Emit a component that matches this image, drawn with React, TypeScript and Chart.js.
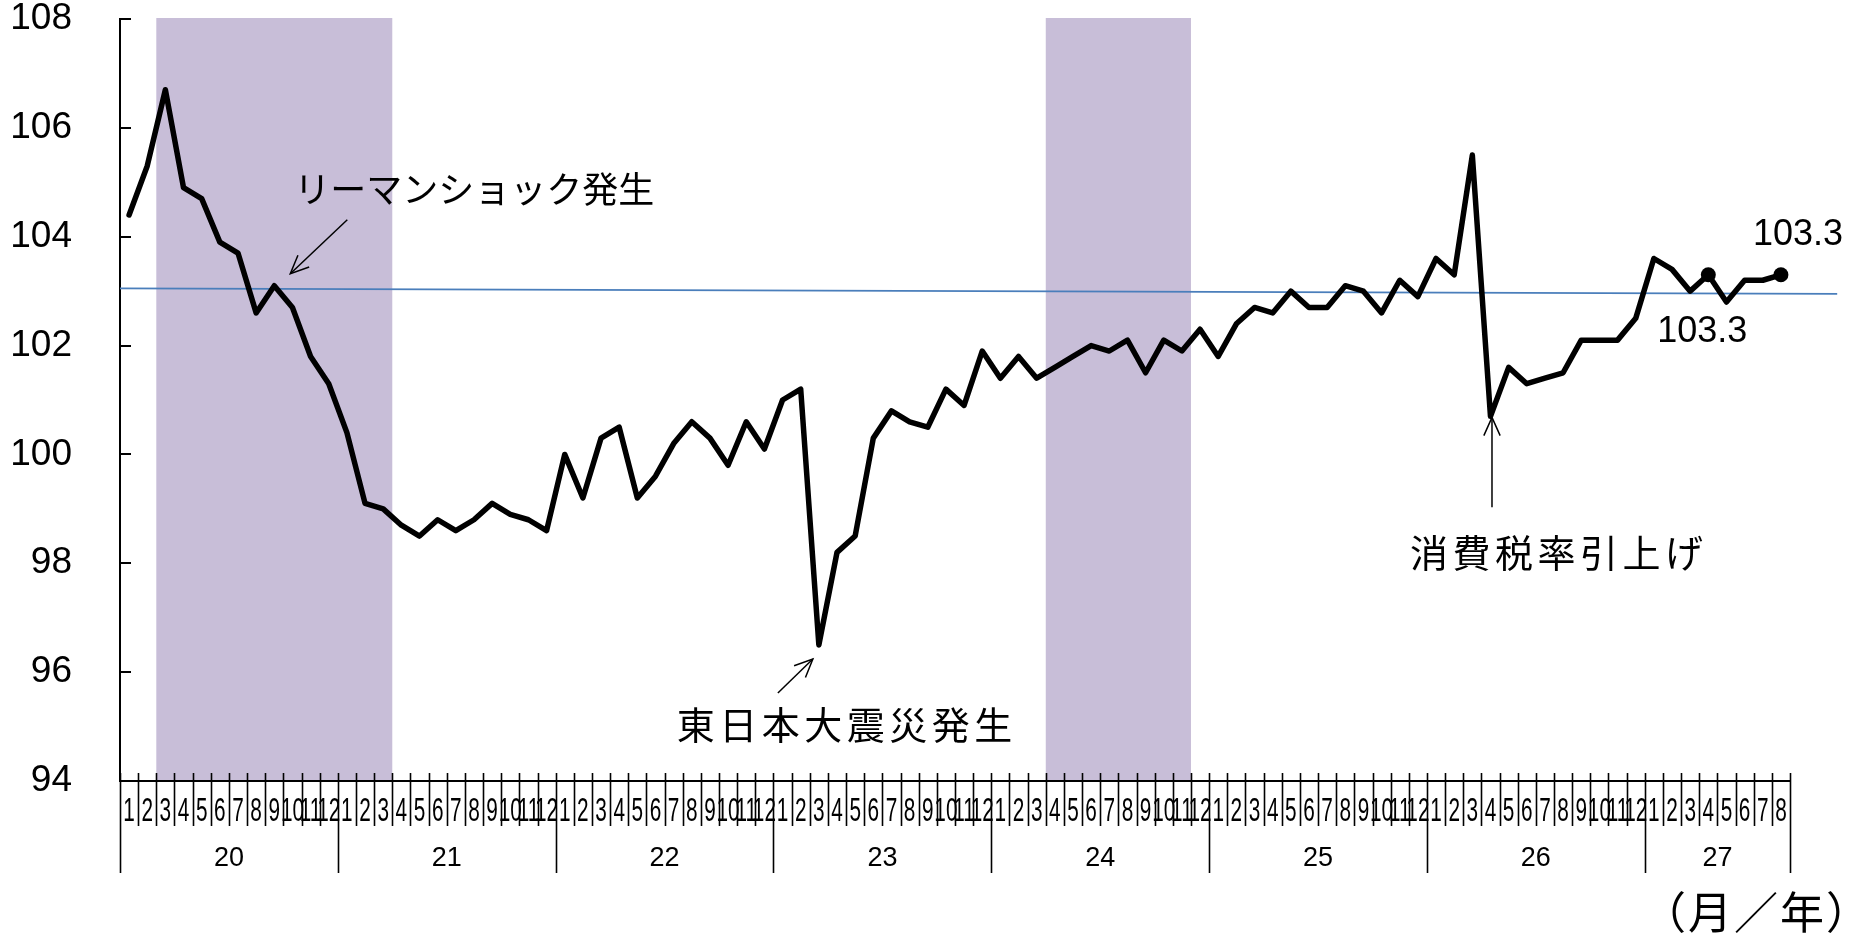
import { useEffect, useRef } from 'react';
import { Chart, registerables } from 'chart.js';

Chart.register(...registerables);

// Heisei years on the time axis and how many months each one contributes
const YEARS = ['20', '21', '22', '23', '24', '25', '26', '27'];
const MONTHS_PER_YEAR = [12, 12, 12, 12, 12, 12, 12, 8];

// Monthly index, H20.1 – H27.8
const INDEX_VALUES = [
  // H20
  104.4, 105.3, 106.7, 104.9, 104.7, 103.9, 103.7, 102.6, 103.1, 102.7, 101.8, 101.3,
  // H21
  100.4, 99.1, 99.0, 98.7, 98.5, 98.8, 98.6, 98.8, 99.1, 98.9, 98.8, 98.6,
  // H22
  100.0, 99.2, 100.3, 100.5, 99.2, 99.6, 100.2, 100.6, 100.3, 99.8, 100.6, 100.1,
  // H23
  101.0, 101.2, 96.5, 98.2, 98.5, 100.3, 100.8, 100.6, 100.5, 101.2, 100.9, 101.9,
  // H24
  101.4, 101.8, 101.4, 101.6, 101.8, 102.0, 101.9, 102.1, 101.5, 102.1, 101.9, 102.3,
  // H25
  101.8, 102.4, 102.7, 102.6, 103.0, 102.7, 102.7, 103.1, 103.0, 102.6, 103.2, 102.9,
  // H26
  103.6, 103.3, 105.5, 100.7, 101.6, 101.3, 101.4, 101.5, 102.1, 102.1, 102.1, 102.5,
  // H27
  103.6, 103.4, 103.0, 103.3, 102.8, 103.2, 103.2, 103.3,
];

// Y axis range and tick step
const Y_MIN = 94;
const Y_MAX = 108;
const Y_STEP = 2;

// Recession periods (month indices, inclusive): H20.3–H21.3, H24.4–H24.11
const SHADE_START = [2, 51];
const SHADE_END = [14, 58];

// Points marked with a dot and their value
const LABELED_POINTS = [87, 91];

// Reference line: value at the left edge of the axis and at its far end
const REF_LINE_FROM = [-0.5, 103.05];
const REF_LINE_TO = [94.1, 102.95];

// Events pointed at with arrows
const EVENT_TEXT = ['リーマンショック発生', '東日本大震災発生', '消費税率引上げ'];
const EVENT_INDEX = [8, 38, 75];

const UNIT_TEXT = '（月／年）';

const MONTH_LABELS: string[] = [];
MONTHS_PER_YEAR.forEach((n) => {
  for (let m = 1; m <= n; m++) MONTH_LABELS.push(String(m));
});

const LATIN = '"Liberation Sans", Arial, sans-serif';
const CJK = '"Noto Sans CJK JP", "Noto Sans", sans-serif';
const BAND_COLOR = '#C8BED8';
const REF_COLOR = '#4A7EBB';

function drawArrow(ctx: CanvasRenderingContext2D, x1: number, y1: number, x2: number, y2: number) {
  ctx.beginPath();
  ctx.moveTo(x1, y1);
  ctx.lineTo(x2, y2);
  ctx.stroke();
  const ang = Math.atan2(y2 - y1, x2 - x1);
  const len = 20;
  const spread = 0.42;
  ctx.beginPath();
  ctx.moveTo(x2 - len * Math.cos(ang - spread), y2 - len * Math.sin(ang - spread));
  ctx.lineTo(x2, y2);
  ctx.lineTo(x2 - len * Math.cos(ang + spread), y2 - len * Math.sin(ang + spread));
  ctx.stroke();
}

const decorations = {
  id: 'decorations',
  beforeDraw(chart: any) {
    const { ctx, chartArea: a, scales } = chart;
    const x = scales.x;
    const half = (x.getPixelForValue(1) - x.getPixelForValue(0)) / 2;
    ctx.save();
    ctx.fillStyle = BAND_COLOR;
    SHADE_START.forEach((s, k) => {
      const l = x.getPixelForValue(s) - half;
      const r = x.getPixelForValue(SHADE_END[k]) + half;
      ctx.fillRect(l, a.top - 1, r - l, a.bottom - a.top + 1);
    });
    ctx.restore();
  },
  beforeDatasetsDraw(chart: any) {
    const { ctx, scales } = chart;
    const { x, y } = scales;
    ctx.save();
    ctx.strokeStyle = REF_COLOR;
    ctx.lineWidth = 1.8;
    ctx.beginPath();
    ctx.moveTo(x.getPixelForValue(REF_LINE_FROM[0]), y.getPixelForValue(REF_LINE_FROM[1]));
    ctx.lineTo(x.getPixelForValue(REF_LINE_TO[0]), y.getPixelForValue(REF_LINE_TO[1]));
    ctx.stroke();
    ctx.restore();
  },
  afterDraw(chart: any) {
    const { ctx, chartArea: a, scales } = chart;
    const { x, y } = scales;
    const cell = x.getPixelForValue(1) - x.getPixelForValue(0);
    const edge = (k: number) => x.getPixelForValue(k) - cell / 2;

    ctx.save();
    ctx.strokeStyle = '#000';
    ctx.fillStyle = '#000';

    // inward ticks on the value axis
    ctx.lineWidth = 2;
    for (let v = Y_MIN; v <= Y_MAX; v += Y_STEP) {
      const py = Math.round(y.getPixelForValue(v));
      ctx.beginPath();
      ctx.moveTo(a.left, py);
      ctx.lineTo(a.left + 11, py);
      ctx.stroke();
    }

    // month separators and year separators
    const yearEdges = new Set<number>();
    let acc = 0;
    yearEdges.add(0);
    MONTHS_PER_YEAR.forEach((n) => {
      acc += n;
      yearEdges.add(acc);
    });
    ctx.lineWidth = 1.6;
    for (let k = 0; k <= MONTH_LABELS.length; k++) {
      const px = Math.round(edge(k)) + 0.5;
      ctx.beginPath();
      ctx.moveTo(px, a.bottom - 8);
      ctx.lineTo(px, a.bottom + (yearEdges.has(k) ? 92 : 45));
      ctx.stroke();
    }

    // month numbers, condensed to fit their cells
    ctx.textAlign = 'center';
    ctx.textBaseline = 'middle';
    ctx.font = `33px ${LATIN}`;
    MONTH_LABELS.forEach((lab, i) => {
      ctx.save();
      ctx.translate(x.getPixelForValue(i), a.bottom + 31);
      ctx.scale(0.63, 1);
      ctx.fillText(lab, 0, 0);
      ctx.restore();
    });

    // year labels centred under their months
    ctx.font = `27px ${LATIN}`;
    let start = 0;
    YEARS.forEach((yr, k) => {
      const end = start + MONTHS_PER_YEAR[k];
      ctx.fillText(yr, (edge(start) + edge(end)) / 2, a.bottom + 78);
      start = end;
    });

    // unit caption
    ctx.textAlign = 'right';
    ctx.font = `44px ${CJK}`;
    (ctx as any).letterSpacing = '2px';
    ctx.fillText(UNIT_TEXT, a.right + 82, a.bottom + 131);
    (ctx as any).letterSpacing = '0px';

    // values of the marked points
    const meta = chart.getDatasetMeta(0);
    ctx.font = `36px ${LATIN}`;
    ctx.textAlign = 'center';
    const p1 = meta.data[LABELED_POINTS[0]];
    ctx.fillText(INDEX_VALUES[LABELED_POINTS[0]].toFixed(1), p1.x - 6, p1.y + 57);
    const p2 = meta.data[LABELED_POINTS[1]];
    ctx.fillText(INDEX_VALUES[LABELED_POINTS[1]].toFixed(1), p2.x + 17, p2.y - 40);

    // event annotations
    ctx.lineWidth = 1.5;
    ctx.textAlign = 'left';

    const e0 = meta.data[EVENT_INDEX[0]];
    const t0x = e0.x + 16, t0y = e0.y - 12;
    drawArrow(ctx, t0x + 57, t0y - 54, t0x, t0y);
    ctx.font = `36px ${CJK}`;
    ctx.fillText(EVENT_TEXT[0], t0x + 4, t0y - 84);

    const e1 = meta.data[EVENT_INDEX[1]];
    const t1x = e1.x - 6, t1y = e1.y + 14;
    drawArrow(ctx, t1x - 35, t1y + 34, t1x, t1y);
    ctx.font = `38px ${CJK}`;
    (ctx as any).letterSpacing = '4.5px';
    ctx.fillText(EVENT_TEXT[1], t1x - 136, t1y + 66);

    const e2 = meta.data[EVENT_INDEX[2]];
    const t2x = e2.x + 1.5, t2y = e2.y + 1;
    drawArrow(ctx, t2x, t2y + 90, t2x, t2y);
    ctx.font = `38px ${CJK}`;
    (ctx as any).letterSpacing = '4.5px';
    ctx.fillText(EVENT_TEXT[2], t2x - 82, t2y + 135);
    (ctx as any).letterSpacing = '0px';

    ctx.restore();
  },
};

export default function App() {
  const canvasRef = useRef<HTMLCanvasElement | null>(null);

  useEffect(() => {
    const canvas = canvasRef.current;
    if (!canvas) return;
    const noPad = (s: any) => {
      s.paddingTop = 0;
      s.paddingBottom = 0;
      s.paddingLeft = 0;
      s.paddingRight = 0;
    };
    const chart = new Chart(canvas, {
      type: 'line',
      data: {
        labels: MONTH_LABELS,
        datasets: [
          {
            data: INDEX_VALUES,
            borderColor: '#000',
            borderWidth: 5.5,
            borderJoinStyle: 'round',
            borderCapStyle: 'round',
            tension: 0,
            pointRadius: INDEX_VALUES.map((_, i) => (LABELED_POINTS.includes(i) ? 7.5 : 0)),
            pointBackgroundColor: '#000',
            pointBorderWidth: 0,
            fill: false,
          },
        ],
      },
      options: {
        responsive: false,
        animation: false,
        devicePixelRatio: 1,
        layout: { padding: { top: 19, right: 68, bottom: 0, left: 0 } },
        plugins: { legend: { display: false }, tooltip: { enabled: false } },
        events: [],
        scales: {
          x: {
            type: 'category',
            offset: true,
            grid: { display: false },
            border: { display: true, color: '#000', width: 2 },
            ticks: { display: false },
            afterFit: (s: any) => {
              s.height = 152;
              noPad(s);
            },
          },
          y: {
            min: Y_MIN,
            max: Y_MAX,
            grid: { display: false, drawTicks: false },
            border: { display: true, color: '#000', width: 2 },
            ticks: {
              stepSize: Y_STEP,
              padding: 48,
              color: '#000',
              font: { family: LATIN, size: 37 },
            },
            afterFit: (s: any) => {
              s.width = 120;
              noPad(s);
            },
          },
        },
      },
      plugins: [decorations],
    });
    return () => chart.destroy();
  }, []);

  return (
    <div style={{ position: 'fixed', left: 0, top: 0, width: 1858, height: 933, background: '#fff' }}>
      <canvas ref={canvasRef} width={1858} height={933} style={{ display: 'block' }} />
    </div>
  );
}
